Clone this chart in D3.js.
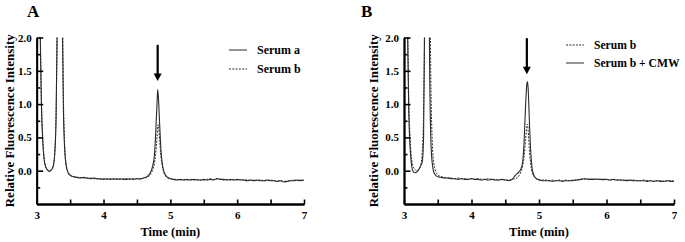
<!DOCTYPE html>
<html><head><meta charset="utf-8">
<script src="https://cdn.jsdelivr.net/npm/d3@7"></script>
<style>
body{margin:0;background:#fff;}
svg text{font-family:"Liberation Serif","Times New Roman",serif;font-weight:bold;fill:#000;}
</style></head>
<body><svg id="c" width="685" height="242"></svg>
<script>
// ---------- DATA ----------
const timeA = [3.00,3.03,3.05,3.07,3.09,3.11,3.13,3.16,3.19,3.22,3.25,3.27,3.29,3.31,3.33,3.36,3.38,3.40,3.42,3.44,3.47,3.50,3.55,3.60,3.65,3.70,3.75,3.80,3.85,3.90,3.95,4.00,4.05,4.10,4.15,4.20,4.25,4.30,4.35,4.40,4.45,4.50,4.55,4.60,4.65,4.70,4.73,4.76,4.78,4.80,4.81,4.82,4.84,4.86,4.88,4.90,4.93,4.96,5.00,5.05,5.10,5.15,5.20,5.25,5.30,5.35,5.40,5.45,5.50,5.55,5.60,5.65,5.70,5.75,5.80,5.85,5.90,5.95,6.00,6.05,6.10,6.15,6.20,6.25,6.30,6.35,6.40,6.45,6.50,6.55,6.60,6.65,6.70,6.75,6.80,6.85,6.90,6.95,7.00];
const serumA_A = [3.0,3.0,2.2,1.0,0.45,0.18,0.07,0.01,-0.01,0.01,0.08,0.25,0.8,2.5,4.0,4.0,2.6,0.9,0.3,0.08,-0.03,-0.07,-0.09,-0.10,-0.11,-0.10,-0.11,-0.12,-0.11,-0.12,-0.12,-0.13,-0.12,-0.13,-0.12,-0.13,-0.12,-0.13,-0.13,-0.12,-0.13,-0.12,-0.12,-0.11,-0.09,-0.03,0.05,0.22,0.55,1.0,1.22,1.12,0.7,0.3,0.1,0.0,-0.07,-0.10,-0.12,-0.13,-0.14,-0.13,-0.14,-0.13,-0.14,-0.13,-0.14,-0.14,-0.13,-0.14,-0.13,-0.14,-0.12,-0.13,-0.13,-0.14,-0.13,-0.14,-0.13,-0.14,-0.14,-0.15,-0.14,-0.15,-0.14,-0.15,-0.15,-0.14,-0.15,-0.15,-0.16,-0.15,-0.17,-0.16,-0.15,-0.15,-0.14,-0.15,-0.14];
const serumB_A = [3.0,3.0,2.3,1.1,0.5,0.2,0.08,0.02,0.0,0.02,0.09,0.27,0.85,2.4,4.0,4.0,2.9,1.1,0.35,0.1,-0.02,-0.06,-0.09,-0.10,-0.10,-0.11,-0.11,-0.11,-0.12,-0.12,-0.13,-0.12,-0.13,-0.12,-0.13,-0.12,-0.13,-0.12,-0.12,-0.13,-0.12,-0.12,-0.13,-0.11,-0.10,-0.06,0.0,0.1,0.25,0.5,0.66,0.69,0.45,0.2,0.07,-0.02,-0.08,-0.11,-0.12,-0.13,-0.13,-0.14,-0.13,-0.14,-0.13,-0.14,-0.13,-0.14,-0.14,-0.13,-0.12,-0.13,-0.12,-0.13,-0.14,-0.13,-0.14,-0.13,-0.14,-0.13,-0.14,-0.14,-0.15,-0.14,-0.15,-0.14,-0.15,-0.15,-0.14,-0.15,-0.16,-0.15,-0.16,-0.16,-0.15,-0.14,-0.15,-0.14,-0.14];

const timeB = [3.00,3.03,3.05,3.07,3.09,3.11,3.13,3.16,3.19,3.22,3.25,3.27,3.29,3.31,3.33,3.36,3.38,3.40,3.42,3.44,3.47,3.50,3.55,3.60,3.65,3.70,3.75,3.80,3.85,3.90,3.95,4.00,4.05,4.10,4.15,4.20,4.25,4.30,4.35,4.40,4.45,4.50,4.55,4.60,4.65,4.70,4.73,4.76,4.78,4.80,4.82,4.83,4.84,4.86,4.88,4.90,4.93,4.96,5.00,5.05,5.10,5.15,5.20,5.25,5.30,5.35,5.40,5.45,5.50,5.55,5.60,5.65,5.70,5.75,5.80,5.85,5.90,5.95,6.00,6.05,6.10,6.15,6.20,6.25,6.30,6.35,6.40,6.45,6.50,6.55,6.60,6.65,6.70,6.75,6.80,6.85,6.90,6.95,7.00];
const serumB_B = [3.0,3.0,2.4,1.1,0.5,0.2,0.08,0.02,0.0,0.02,0.09,0.27,0.85,2.4,4.0,4.0,3.0,1.2,0.4,0.12,-0.01,-0.06,-0.09,-0.10,-0.11,-0.11,-0.12,-0.11,-0.12,-0.12,-0.13,-0.12,-0.13,-0.12,-0.13,-0.13,-0.12,-0.13,-0.13,-0.14,-0.13,-0.14,-0.14,-0.13,-0.12,-0.08,-0.02,0.08,0.22,0.45,0.66,0.70,0.6,0.28,0.08,-0.03,-0.09,-0.12,-0.13,-0.14,-0.14,-0.15,-0.14,-0.15,-0.14,-0.15,-0.14,-0.15,-0.14,-0.14,-0.13,-0.125,-0.12,-0.13,-0.125,-0.13,-0.13,-0.14,-0.13,-0.14,-0.13,-0.14,-0.14,-0.15,-0.14,-0.15,-0.14,-0.15,-0.15,-0.14,-0.15,-0.15,-0.16,-0.15,-0.15,-0.16,-0.15,-0.15,-0.16];
const serumBCMW_B = [3.0,3.0,2.3,0.9,0.35,0.1,0.0,-0.03,-0.02,0.02,0.08,0.13,0.5,3.0,4.0,4.0,1.5,0.4,0.1,-0.02,-0.07,-0.09,-0.10,-0.11,-0.11,-0.12,-0.12,-0.13,-0.12,-0.13,-0.13,-0.12,-0.13,-0.13,-0.14,-0.13,-0.14,-0.13,-0.14,-0.14,-0.13,-0.14,-0.15,-0.13,-0.07,-0.02,0.02,0.15,0.45,0.95,1.30,1.34,1.22,0.68,0.25,0.02,-0.08,-0.12,-0.14,-0.15,-0.15,-0.15,-0.16,-0.15,-0.15,-0.16,-0.15,-0.15,-0.15,-0.14,-0.135,-0.125,-0.125,-0.13,-0.13,-0.125,-0.13,-0.13,-0.13,-0.14,-0.13,-0.14,-0.14,-0.14,-0.15,-0.14,-0.15,-0.15,-0.15,-0.15,-0.16,-0.15,-0.16,-0.15,-0.16,-0.16,-0.15,-0.16,-0.16];

const xMajorTicks = [3,4,5,6,7];
const xMinorTicks = [3.5,4.5,5.5,6.5];
const yMajorTicks = [0.0,0.5,1.0,1.5,2.0];
const yMinorTicks = [-0.25,0.25,0.75,1.25,1.75];
const legendA = ["Serum a","Serum b"];
const legendB = ["Serum b","Serum b + CMW"];
const arrowA = {t:4.81, from:1.89, to:1.345};
const arrowB = {t:4.82, from:1.99, to:1.45};

// ---------- DRAW ----------
const svg = d3.select("#c");
const defs = svg.append("defs");
const FONT = "'Liberation Serif','Times New Roman',serif";

function panel(opts){
  const {id, x0, x1, letter, letterX, times, series, legend, legX, legY, legGap, legFont, arrow, labelX} = opts;
  const x = d3.scaleLinear([3,7],[x0,x1]);
  const y = d3.scaleLinear([-0.5,2.0],[204,37.5]);
  const g = svg.append("g");

  defs.append("clipPath").attr("id","clip"+id).append("rect")
    .attr("x",x0).attr("y",y(2.0)).attr("width",x1-x0).attr("height",y(-0.5)-y(2.0));

  const line = d3.line().x(d=>x(d[0])).y(d=>y(d[1])).curve(d3.curveMonotoneX);
  series.forEach(s=>{
    g.append("path").datum(times.map((t,i)=>[t,s.values[i]]))
      .attr("clip-path","url(#clip"+id+")")
      .attr("fill","none").attr("stroke","#2a2a2a").attr("stroke-width",s.dash?1:1.1)
      .attr("stroke-dasharray",s.dash?"2,1.3":null)
      .attr("d",line);
  });

  const ax = (sel)=>{sel.selectAll(".domain").attr("stroke","#000").attr("stroke-width",1.8);
    sel.selectAll(".tick line").attr("stroke","#000").attr("stroke-width",1.6);
    sel.selectAll("text").attr("font-size","11px").attr("font-family",FONT).attr("font-weight","bold");};
  g.append("g").attr("transform",`translate(0,${y(-0.5)})`)
    .call(d3.axisBottom(x).tickValues(xMajorTicks).tickFormat(d3.format("d")).tickSizeInner(-4.5).tickSizeOuter(0).tickPadding(7)).call(ax);
  g.append("g").attr("transform",`translate(0,${y(-0.5)})`)
    .call(d3.axisBottom(x).tickValues(xMinorTicks).tickFormat("").tickSizeInner(-4.5).tickSizeOuter(0)).call(ax);
  g.append("g").attr("transform",`translate(${x0},0)`)
    .call(d3.axisLeft(y).tickValues(yMajorTicks).tickFormat(d3.format(".1f")).tickSizeInner(-6.5).tickSizeOuter(0).tickPadding(5)).call(ax);
  g.append("g").attr("transform",`translate(${x0},0)`)
    .call(d3.axisLeft(y).tickValues(yMinorTicks).tickFormat("").tickSizeInner(-3.5).tickSizeOuter(0)).call(ax);

  g.append("text").attr("x",(x0+x1)/2).attr("y",236).attr("text-anchor","middle")
    .attr("font-size","12.5px").text("Time (min)");
  g.append("text").attr("transform",`translate(${labelX},${y(0.75)}) rotate(-90)`)
    .attr("text-anchor","middle").attr("dy","0.35em").attr("font-size","13px")
    .text("Relative Fluorescence Intensity");
  g.append("text").attr("x",letterX).attr("y",17).attr("font-size","17px").text(letter);

  legend.forEach((name,i)=>{
    const s = series.find(d=>d.name===name);
    const ly = legY + i*legGap;
    g.append("line").attr("x1",legX).attr("x2",legX+18).attr("y1",ly).attr("y2",ly)
      .attr("stroke","#2a2a2a").attr("stroke-width",1).attr("stroke-dasharray",s.dash?"2,1.3":null);
    g.append("text").attr("x",legX+28).attr("y",ly+4).attr("font-size",legFont).text(name);
  });

  const ax0 = x(arrow.t), ayTop = y(arrow.from), ayTip = y(arrow.to);
  g.append("line").attr("x1",ax0).attr("x2",ax0).attr("y1",ayTop).attr("y2",ayTip-6)
    .attr("stroke","#000").attr("stroke-width",2.2);
  g.append("path").attr("d",`M${ax0-4},${ayTip-7.5} L${ax0+4},${ayTip-7.5} L${ax0},${ayTip} Z`).attr("fill","#000");
}

panel({id:"A", x0:36.7, x1:304, letter:"A", letterX:27, times:timeA,
  series:[{name:"Serum a",values:serumA_A,dash:false},{name:"Serum b",values:serumB_A,dash:true}],
  legend:legendA, legX:229, legY:50, legGap:19, legFont:"12px", arrow:arrowA, labelX:9});
panel({id:"B", x0:404, x1:674, letter:"B", letterX:361, times:timeB,
  series:[{name:"Serum b",values:serumB_B,dash:true},{name:"Serum b + CMW",values:serumBCMW_B,dash:false}],
  legend:legendB, legX:566, legY:45, legGap:18, legFont:"11.6px", arrow:arrowB, labelX:373});
</script></body></html>
